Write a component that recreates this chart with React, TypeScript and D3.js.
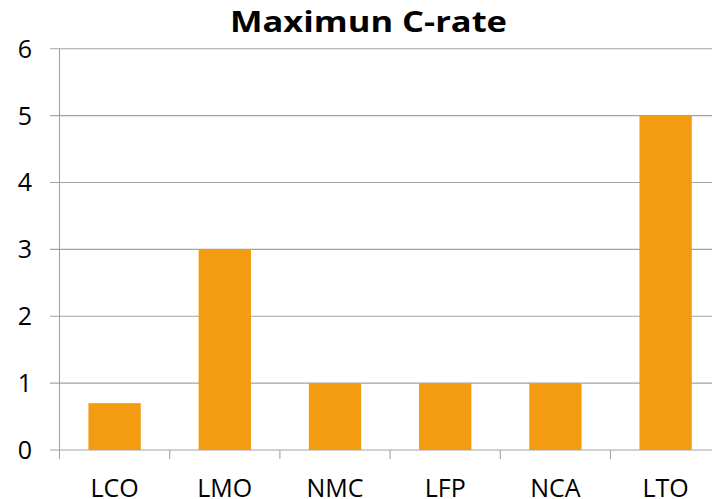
import React from "react";
import * as d3 from "d3";

const categories = ["LCO", "LMO", "NMC", "LFP", "NCA", "LTO"];
const values = [0.7, 3, 1, 1, 1, 5];
const yTicks = [0, 1, 2, 3, 4, 5, 6];
const title = "Maximun C-rate";

const W = 712;
const H = 499;
const plot = { left: 59.5, right: 720.7, top: 48.7, bottom: 450 };
const barColor = "#F39C12";
const gridColor = "#A3A3A3";
const font = "'Open Sans', 'DejaVu Sans', sans-serif";

export default function App() {
  const x = d3
    .scaleBand<string>()
    .domain(categories)
    .range([plot.left, plot.right])
    .padding(0);
  const y = d3.scaleLinear().domain([0, 6]).range([plot.bottom, plot.top]);
  const barW = x.bandwidth() * 0.475;
  const boundaries = [...categories.map((c) => x(c) as number), plot.right];

  return (
    <svg
      width={W}
      height={H}
      style={{ position: "absolute", left: 0, top: 0, background: "#fff" }}
    >
      {/* horizontal gridlines with their left tick stubs */}
      {yTicks.map((t) => (
        <line
          key={`g${t}`}
          x1={50}
          x2={W}
          y1={y(t)}
          y2={y(t)}
          stroke={gridColor}
          strokeWidth={1.1}
        />
      ))}
      {/* vertical axis */}
      <line
        x1={plot.left}
        x2={plot.left}
        y1={plot.top}
        y2={plot.bottom}
        stroke={gridColor}
        strokeWidth={1.1}
      />
      {/* category tick marks */}
      {boundaries.map((bx, i) => (
        <line
          key={`t${i}`}
          x1={bx}
          x2={bx}
          y1={plot.bottom}
          y2={plot.bottom + 9}
          stroke={gridColor}
          strokeWidth={1.1}
        />
      ))}
      {/* bars */}
      {categories.map((c, i) => {
        const cx = (x(c) as number) + x.bandwidth() / 2;
        return (
          <rect
            key={c}
            x={cx - barW / 2}
            y={y(values[i])}
            width={barW}
            height={y(0) - y(values[i])}
            fill={barColor}
          />
        );
      })}
      {/* y tick labels */}
      {yTicks.map((t) => (
        <text
          key={`l${t}`}
          x={32}
          y={y(t) + 9}
          textAnchor="end"
          fontFamily={font}
          fontSize={25}
          fill="#000"
        >
          {t}
        </text>
      ))}
      {/* category labels */}
      {categories.map((c) => (
        <text
          key={`c${c}`}
          x={(x(c) as number) + x.bandwidth() / 2}
          y={497}
          textAnchor="middle"
          fontFamily={font}
          fontSize={25}
          fill="#000"
        >
          {c}
        </text>
      ))}
      {/* title */}
      <text
        x={368.5}
        y={31.7}
        textAnchor="middle"
        fontFamily={font}
        fontWeight="bold"
        fontSize={28}
        textLength={277}
        lengthAdjust="spacingAndGlyphs"
        fill="#000"
      >
        {title}
      </text>
    </svg>
  );
}
